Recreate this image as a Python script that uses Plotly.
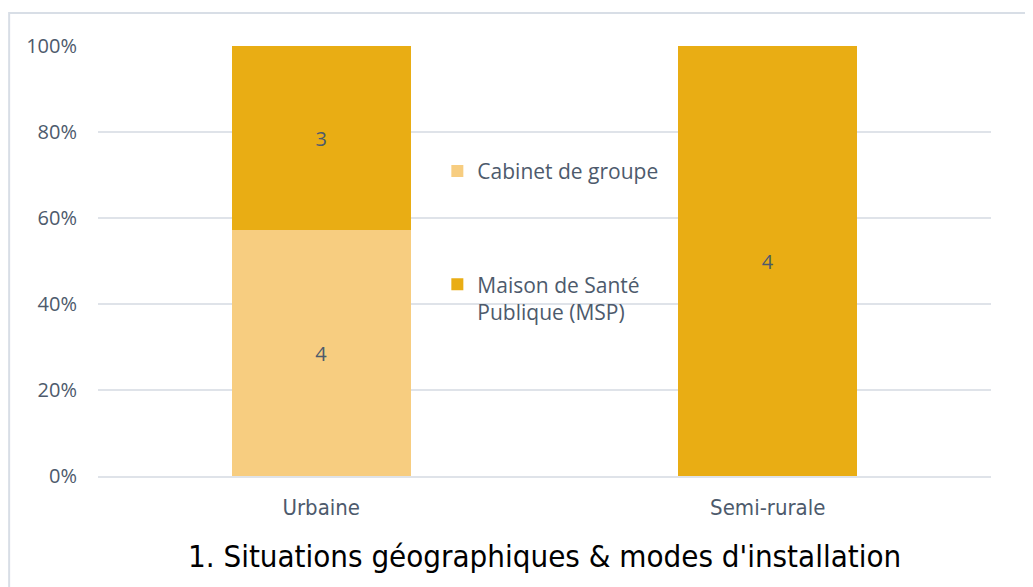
import plotly.graph_objects as go

categories = ["Urbaine", "Semi-rurale"]
cabinet_groupe = [4, 0]
maison_sante = [3, 4]
series_names = ["Cabinet de groupe", "Maison de Santé<br>Publique (MSP)"]
y_ticks = [0, 20, 40, 60, 80, 100]
title_text = "1. Situations géographiques & modes d'installation"

label_color = "#4d5a6c"
grid_color = "#dfe3e9"
cond_font = "DejaVu Sans Condensed, Liberation Sans Narrow, Roboto, sans-serif"


def labels(vals):
    return [str(v) if v else "" for v in vals]


fig = go.Figure()
fig.add_trace(go.Bar(
    x=categories, y=cabinet_groupe, name=series_names[0],
    marker=dict(color="#f7cd80", line=dict(width=0)),
    text=labels(cabinet_groupe), textposition="inside", insidetextanchor="middle",
    textfont=dict(family="Open Sans", size=20, color=label_color),
    legendgroup="a", hoverinfo="skip",
))
fig.add_trace(go.Bar(
    x=categories, y=maison_sante, name=series_names[1],
    marker=dict(color="#e9ad14", line=dict(width=0)),
    text=labels(maison_sante), textposition="inside", insidetextanchor="middle",
    textfont=dict(family="Open Sans", size=20, color=label_color),
    legendgroup="b", hoverinfo="skip",
))

fig.update_layout(
    barmode="stack", barnorm="percent", bargap=0.6,
    width=1025, height=579,
    margin=dict(l=90, r=42, t=38, b=111),
    paper_bgcolor="white", plot_bgcolor="white",
    legend=dict(
        x=0.38, y=0.756, xanchor="left", yanchor="top",
        traceorder="grouped", tracegroupgap=83, valign="top",
        font=dict(family="Open Sans", size=21, color=label_color),
        bgcolor="rgba(0,0,0,0)", itemwidth=30,
    ),
    yaxis=dict(
        range=[0, 100], tickmode="array", tickvals=y_ticks,
        ticktext=[f"{v}%" for v in y_ticks],
        showgrid=True, gridcolor=grid_color, gridwidth=1.5,
        zeroline=False, showline=False,
        tickfont=dict(family="Open Sans", size=20, color=label_color),
        ticklabelstandoff=20,
    ),
    xaxis=dict(
        showgrid=False, showline=True, linecolor=grid_color, linewidth=1.5,
        tickfont=dict(family=cond_font, size=22, color=label_color),
        ticklabelstandoff=11,
    ),
    annotations=[dict(
        text=title_text, x=0.5, y=-0.186, xref="paper", yref="paper",
        xanchor="center", yanchor="middle", showarrow=False,
        font=dict(family=cond_font, size=31, color="black"),
    )],
    shapes=[dict(
        type="rect", xref="paper", yref="paper",
        x0=-0.0995, x1=1.1, y0=-0.4, y1=1.0767,
        line=dict(color="#d8dee6", width=2), fillcolor="rgba(0,0,0,0)", layer="below",
    )],
)

fig.write_html("out.html")
